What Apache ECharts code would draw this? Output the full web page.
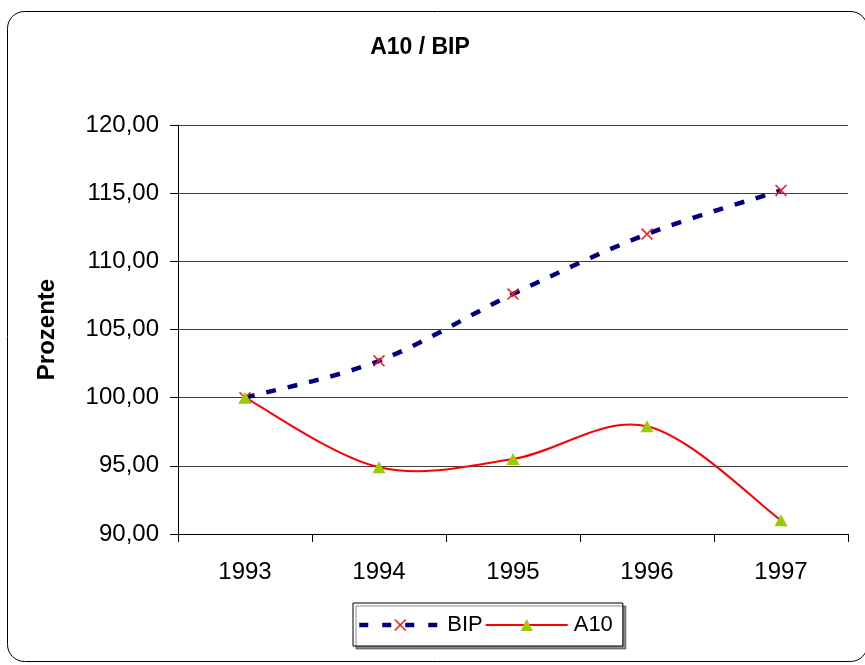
<!DOCTYPE html>
<html>
<head>
<meta charset="utf-8">
<script src="https://cdn.jsdelivr.net/npm/echarts@6/dist/echarts.min.js"></script>
<style>
  html, body { margin: 0; padding: 0; background: #fff; }
  #chart { width: 865px; height: 665px; }
</style>
</head>
<body>
<div id="chart"></div>
<script>
// Jahre und Indexwerte (1993 = 100)
var years = ['1993', '1994', '1995', '1996', '1997'];
var bipValues = [100.0, 102.7, 107.6, 112.0, 115.2];
var a10Values = [100.0, 94.9, 95.5, 97.9, 91.0];
var yTicks = [90, 95, 100, 105, 110, 115, 120];

var FONT = '"Liberation Sans", Arial, sans-serif';
var crossPath = 'path://M0,0.9 L0.9,0 L10,9.1 L9.1,10 Z M9.1,0 L10,0.9 L0.9,10 L0,9.1 Z';

// Kurve im Stil einer Catmull-Rom-Glättung durch die Pixelpunkte
var SmoothCurve = echarts.graphic.extendShape({
  shape: { points: [] },
  buildPath: function (ctx, shape) {
    var p = shape.points;
    if (!p || p.length < 2) return;
    ctx.moveTo(p[0][0], p[0][1]);
    for (var i = 0; i < p.length - 1; i++) {
      var p0 = p[Math.max(i - 1, 0)];
      var p1 = p[i];
      var p2 = p[i + 1];
      var p3 = p[Math.min(i + 2, p.length - 1)];
      var c1x = p1[0] + (p2[0] - p0[0]) / 6;
      var c1y = p1[1] + (p2[1] - p0[1]) / 6;
      var c2x = p2[0] - (p3[0] - p1[0]) / 6;
      var c2y = p2[1] - (p3[1] - p1[1]) / 6;
      ctx.bezierCurveTo(c1x, c1y, c2x, c2y, p2[0], p2[1]);
    }
  }
});
echarts.graphic.registerShape('smoothCurve', SmoothCurve);

function curveSeries(name, values, lineStyle) {
  return {
    name: name + ' Kurve',
    type: 'custom',
    data: [0],
    silent: true,
    z: 2,
    renderItem: function (params, api) {
      var pts = values.map(function (v, i) { return api.coord([i, v]); });
      return {
        type: 'smoothCurve',
        shape: { points: pts },
        style: lineStyle
      };
    }
  };
}

var bipLine = { color: '#000080', width: 4.5, type: [10, 12], cap: 'butt' };
var a10Line = { color: '#ff0000', width: 2, type: 'solid' };

var chart = echarts.init(document.getElementById('chart'), null, { renderer: 'canvas' });

chart.setOption({
  backgroundColor: '#ffffff',
  animation: false,
  graphic: [
    {
      type: 'rect',
      shape: { x: 7.5, y: 11.5, width: 860, height: 650, r: 17 },
      style: { fill: 'none', stroke: '#000', lineWidth: 1 },
      silent: true, z: -1
    },
    {
      type: 'text',
      x: 420, y: 48,
      style: {
        text: 'A10 / BIP',
        font: 'bold 23px ' + FONT,
        fill: '#000',
        textAlign: 'center',
        textVerticalAlign: 'middle'
      }
    }
  ],
  grid: { left: 178, right: 17, top: 125, bottom: 131 },
  legend: {
    data: [
      { name: 'BIP', lineStyle: { color: bipLine.color, width: 4.5, type: [9, 14], opacity: 1 } },
      { name: 'A10', lineStyle: { color: a10Line.color, width: 2, type: 'solid', opacity: 1 } }
    ],
    left: 353,
    top: 603,
    orient: 'horizontal',
    itemWidth: 82,
    itemHeight: 15,
    itemGap: 2,
    padding: [11, 10, 10, 4],
    backgroundColor: '#ffffff',
    borderColor: '#000',
    borderWidth: 1,
    shadowColor: 'rgba(0,0,0,0.45)',
    shadowOffsetX: 3,
    shadowOffsetY: 3,
    shadowBlur: 0,
    textStyle: { fontFamily: FONT, fontSize: 22, color: '#000', padding: [0, 0, 0, 1] }
  },
  xAxis: {
    type: 'category',
    data: years,
    boundaryGap: true,
    axisLine: { lineStyle: { color: '#000', width: 1 } },
    axisTick: { show: true, length: 8, alignWithLabel: false, lineStyle: { color: '#000' } },
    axisLabel: { fontFamily: FONT, fontSize: 24, color: '#000', margin: 26 },
    splitLine: { show: false }
  },
  yAxis: {
    type: 'value',
    min: yTicks[0],
    max: yTicks[yTicks.length - 1],
    interval: 5,
    name: 'Prozente',
    nameLocation: 'middle',
    nameRotate: 90,
    nameGap: 119,
    nameTextStyle: { fontFamily: FONT, fontSize: 24, fontWeight: 'bold', color: '#000' },
    axisLine: { show: true, lineStyle: { color: '#000', width: 1 } },
    axisTick: { show: true, inside: false, length: 8, lineStyle: { color: '#000' } },
    axisLabel: {
      fontFamily: FONT, fontSize: 24, color: '#000', margin: 19,
      formatter: function (v) { return v.toFixed(2).replace('.', ','); }
    },
    splitLine: { show: true, lineStyle: { color: '#404040', width: 1 } }
  },
  series: [
    curveSeries('BIP', bipValues, {
      fill: 'none', stroke: bipLine.color, lineWidth: bipLine.width,
      lineDash: bipLine.type, lineCap: 'butt'
    }),
    curveSeries('A10', a10Values, {
      fill: 'none', stroke: a10Line.color, lineWidth: a10Line.width
    }),
    {
      name: 'BIP',
      type: 'line',
      data: bipValues,
      symbol: crossPath,
      symbolSize: 12,
      itemStyle: { color: '#ff1a1a' },
      lineStyle: { color: bipLine.color, width: 4.5, type: bipLine.type, opacity: 0 },
      z: 3
    },
    {
      name: 'A10',
      type: 'line',
      data: a10Values,
      symbol: 'triangle',
      symbolSize: [13, 12],
      itemStyle: { color: '#99cc00' },
      lineStyle: { color: a10Line.color, width: 2, opacity: 0 },
      z: 4
    }
  ]
});
</script>
</body>
</html>
